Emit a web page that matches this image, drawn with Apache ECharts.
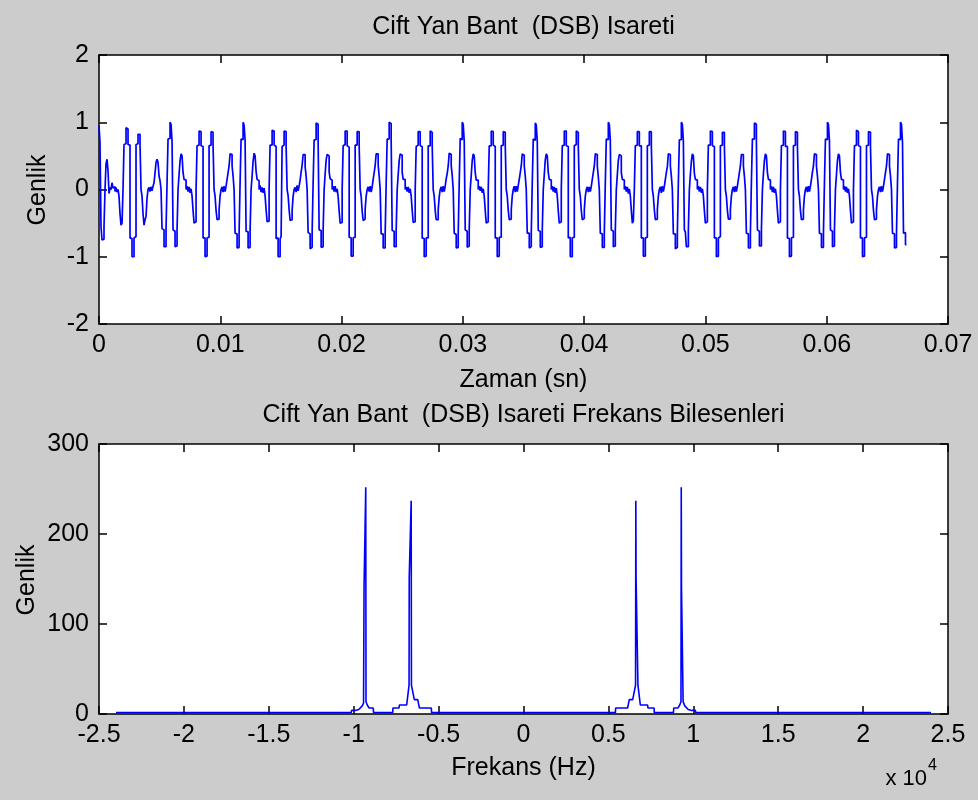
<!DOCTYPE html>
<html><head><meta charset="utf-8">
<script src="https://cdn.jsdelivr.net/npm/echarts@6/dist/echarts.min.js"></script>
<style>html,body{margin:0;padding:0;background:#cccccc}#c{width:978px;height:800px}</style>
</head><body><div id="c"></div>
<script>
// ---- text ----
const timeTitle = 'Cift Yan Bant  (DSB) Isareti';
const freqTitle = 'Cift Yan Bant  (DSB) Isareti Frekans Bilesenleri';
const timeXLabel = 'Zaman (sn)';
const freqXLabel = 'Frekans (Hz)';
const yLabel = 'Genlik';
const timeTickLabels = ['0','0.01','0.02','0.03','0.04','0.05','0.06','0.07'];
const freqTickLabels = ['-2.5','-2','-1.5','-1','-0.5','0','0.5','1','1.5','2','2.5'];

// ---- time signal (one per sample step) ----
const sampleStep = 0.0000825; // seconds between plotted samples
const signal = [
0.95,0.7,-0.55,-0.75,-0.74,-0.55,0,0.38,0.45,0.28,-0.06,0.03,0,0.1,0.02,0.04,-0.03,0.03,-0.04,0,-0.1,-0.36,-0.53,-0.5,0,0.67,0.68,0.92,0.9,0.67,0.66,-0.72,-0.73,-1,-1,-0.72,-0.7,0.67,0.68,0.82,0.82,0.67,0,-0.1,-0.36,-0.53,-0.45,-0.4,-0.13,0,0.03,-0.03,0.04,-0.02,0.05,0.1,0.25,0.4,0.45,0.4,0.2,0.13,0,-0.58,-0.6,-0.85,-0.85,-0.6,0.1,0.75,0.76,
1,0.97,0.72,-0.6,-0.62,-0.85,-0.84,-0.6,0,0.22,0.43,0.53,0.5,0.25,0.15,0.14,0,0.05,-0.03,0.04,-0.05,0.01,-0.1,-0.31,-0.5,-0.48,0,0.65,0.66,0.87,0.86,0.65,0.64,-0.72,-0.72,-1,-0.99,-0.72,-0.71,0.65,0.66,0.86,0.85,0.65,0,-0.1,-0.31,-0.45,-0.44,-0.3,-0.1,0,0.04,-0.04,0.05,-0.03,0.05,0.15,0.25,0.35,0.53,0.52,0.35,0.2,0,-0.65,-0.66,-0.87,-0.86,-0.65,0.1,0.75,0.74,
1,0.96,0.73,-0.62,-0.63,-0.87,-0.86,-0.61,0,0.2,0.42,0.54,0.5,0.27,0.15,0.13,0,0.06,-0.04,0.03,-0.05,0.02,-0.1,-0.3,-0.48,-0.47,0,0.66,0.66,0.88,0.87,0.66,0.64,-0.73,-0.72,-1,-1,-0.73,-0.7,0.64,0.66,0.87,0.86,0.64,0,-0.09,-0.3,-0.46,-0.45,-0.31,-0.1,0,0.03,-0.04,0.06,-0.02,0.05,0.14,0.26,0.36,0.52,0.52,0.34,0.2,0,-0.64,-0.66,-0.88,-0.86,-0.64,0.1,0.74,0.74,
0.99,0.97,0.71,-0.6,-0.61,-0.86,-0.85,-0.6,0,0.23,0.44,0.52,0.5,0.26,0.16,0.14,0,0.05,-0.03,0.05,-0.04,0.01,-0.11,-0.32,-0.5,-0.49,0,0.65,0.67,0.87,0.87,0.65,0.63,-0.71,-0.72,-0.99,-0.99,-0.72,-0.71,0.66,0.66,0.86,0.86,0.65,0,-0.1,-0.32,-0.46,-0.44,-0.29,-0.1,0,0.04,-0.03,0.05,-0.04,0.04,0.15,0.25,0.36,0.53,0.53,0.36,0.2,0,-0.66,-0.66,-0.87,-0.87,-0.66,0.1,0.75,0.75,
1,0.98,0.72,-0.61,-0.62,-0.85,-0.85,-0.6,0,0.22,0.43,0.53,0.51,0.25,0.15,0.15,0,0.04,-0.03,0.04,-0.05,0.01,-0.1,-0.31,-0.49,-0.48,0,0.64,0.66,0.86,0.86,0.65,0.64,-0.72,-0.73,-1,-0.99,-0.72,-0.72,0.65,0.65,0.87,0.85,0.65,0,-0.1,-0.31,-0.45,-0.45,-0.3,-0.11,0,0.04,-0.04,0.05,-0.03,0.05,0.16,0.24,0.35,0.54,0.52,0.35,0.21,0,-0.65,-0.67,-0.87,-0.86,-0.65,0.1,0.76,0.74,
1,0.97,0.72,-0.6,-0.62,-0.86,-0.84,-0.59,0,0.21,0.43,0.53,0.5,0.25,0.14,0.14,0,0.05,-0.02,0.04,-0.05,0.01,-0.1,-0.31,-0.5,-0.48,0,0.65,0.65,0.87,0.86,0.66,0.64,-0.72,-0.72,-1,-0.99,-0.71,-0.71,0.65,0.66,0.86,0.85,0.66,0,-0.1,-0.31,-0.45,-0.44,-0.3,-0.1,0,0.05,-0.04,0.05,-0.03,0.06,0.15,0.25,0.35,0.53,0.51,0.35,0.2,0,-0.65,-0.65,-0.87,-0.85,-0.65,0.1,0.75,0.73,
0.99,0.96,0.72,-0.61,-0.62,-0.86,-0.85,-0.6,0,0.22,0.44,0.53,0.5,0.25,0.15,0.14,0,0.05,-0.03,0.04,-0.05,0.02,-0.1,-0.32,-0.5,-0.48,0,0.65,0.66,0.87,0.87,0.65,0.64,-0.72,-0.71,-1,-1,-0.72,-0.71,0.65,0.67,0.87,0.85,0.65,0,-0.1,-0.31,-0.45,-0.43,-0.3,-0.1,0,0.04,-0.04,0.04,-0.03,0.05,0.15,0.25,0.35,0.53,0.52,0.35,0.19,0,-0.65,-0.66,-0.86,-0.86,-0.65,0.1,0.75,0.74,
1,0.97,0.73,-0.6,-0.62,-0.85,-0.84,-0.6,0,0.22,0.43,0.52,0.5,0.25,0.15,0.14,0,0.05,-0.03,0.04,-0.06,0.01,-0.1,-0.31,-0.5,-0.47,0,0.65,0.66,0.86,0.86,0.65,0.65,-0.72,-0.72,-0.99,-0.99,-0.72,-0.71,0.65,0.66,0.86,0.86,0.65,0,-0.1,-0.3,-0.45,-0.44,-0.3,-0.1,0,0.04,-0.05,0.05,-0.03,0.05,0.15,0.25,0.34,0.53,0.52,0.35,0.2,0,-0.66,-0.66,-0.88,-0.86,-0.65,0.1,0.74,0.74,
1,0.97,0.72,-0.6,-0.63,-0.85,-0.85,-0.6,0,0.22,0.42,0.53,0.5,0.24,0.15,0.14,0,0.05,-0.03,0.04,-0.05,0.01,-0.1,-0.31,-0.5,-0.48,0,0.66,0.66,0.87,0.86,0.65,0.64,-0.72,-0.72,-1,-0.99,-0.72,-0.7,0.65,0.66,0.85,0.85,0.65,0,-0.1,-0.31,-0.44,-0.44,-0.3,-0.1,0,0.04,-0.04,0.05,-0.03,0.05,0.15,0.25,0.35,0.52,0.52,0.35,0.2,0,-0.65,-0.66,-0.87,-0.87,-0.65,0.1,0.75,0.75,
0.99,0.97,0.72,-0.6,-0.62,-0.84,-0.84,-0.6,0,0.23,0.43,0.53,0.5,0.25,0.15,0.14,0,0.05,-0.04,0.04,-0.05,0.01,-0.1,-0.31,-0.5,-0.48,0,0.65,0.66,0.87,0.86,0.64,0.64,-0.72,-0.73,-1,-0.99,-0.72,-0.71,0.65,0.66,0.86,0.85,0.64,0,-0.1,-0.31,-0.45,-0.44,-0.3,-0.1,0,0.04,-0.04,0.05,-0.03,0.05,0.15,0.26,0.35,0.53,0.52,0.35,0.2,0,-0.65,-0.66,-0.86,-0.86,-0.65,0.1,0.75,0.74,
1,0.97,0.72,-0.6,-0.62,-0.85,-0.84,-0.6,0,0.22,0.43,0.53,0.5,0.25,0.15,0.14,0,0.05,-0.03,0.04,-0.05,0.01,-0.1,-0.31,-0.5,-0.48,0,0.65,0.66,0.88,0.86,0.65,0.64,-0.72,-0.72,-1,-0.99,-0.72,-0.71,0.65,0.66,0.86,0.85,0.65,0,-0.1,-0.31,-0.45,-0.44,-0.3,-0.1,0,0.04,-0.04,0.05,-0.03,0.05,0.15,0.25,0.35,0.53,0.52,0.35,0.2,0,-0.65,-0.66,-0.87,-0.86,-0.65,0.1,0.75,0.74,
1,0.97,0.7,-0.65,-0.64,-0.82,-0.82
];

// ---- spectrum ----
const specFreq = [
-24000,-10150,-10120,-9900,-9700,-9500,-9420,-9400,-9390,-9305,-9290,-9275,-9200,-9100,-8850,-8830,
-7700,-7690,-7330,-7310,-6880,-6830,-6740,-6730,-6630,-6615,-6600,-6430,-6230,-6130,-5430,-5410,
5410,5430,6130,6230,6430,6600,6615,6630,6730,6740,6830,6880,7310,7330,7690,7700,
8830,8850,9100,9200,9275,9290,9305,9390,9400,9420,9500,9700,9900,10120,10150,24000];
const specMag = [
1.5,1.5,4,4,5,9,12,13.7,141,141,252,13.7,10,6.7,6.7,1.5,
1.5,6.7,6.7,10,10,18,32,152,152,237,32,16,16,6.7,6.7,1.5,
1.5,6.7,6.7,16,16,32,237,151,151,32,18,10,10,6.7,6.7,1.5,
1.5,6.7,6.7,10,13.7,252,141,141,13.7,12,9,5,4,4,1.5,1.5];

// ---- chart ----
const FONT = '"Liberation Sans", Arial, Helvetica, sans-serif';
const FS = 25;
const timeData = signal.map((v, k) => [k * sampleStep, v]);
const specData = specFreq.map((f, i) => [f, specMag[i]]);

const line = {show: true, onZero: false, lineStyle: {color: '#000', width: 1.5}};
const tick = {show: true, inside: true, length: 8, lineStyle: {color: '#000', width: 1.5}};
const lab = (extra) => Object.assign({color: '#000', fontSize: FS, fontFamily: FONT}, extra);
const boxAxis = (gi, pos, min, max, interval) => ({
  gridIndex: gi, type: 'value', position: pos, min, max, interval,
  axisLine: line, axisTick: tick, axisLabel: {show: false}, splitLine: {show: false}
});

const chart = echarts.init(document.getElementById('c'), null, {renderer: 'canvas', width: 978, height: 800});
chart.setOption({
  backgroundColor: '#cccccc',
  animation: false,
  grid: [
    {left: 99, top: 55, width: 849, height: 269, show: true, backgroundColor: '#ffffff', borderWidth: 0},
    {left: 99, top: 444, width: 849, height: 270, show: true, backgroundColor: '#ffffff', borderWidth: 0}
  ],
  xAxis: [
    {gridIndex: 0, type: 'value', position: 'bottom', min: 0, max: 0.07, interval: 0.01,
     axisLine: line, axisTick: tick, splitLine: {show: false},
     axisLabel: lab({margin: 9, formatter: (v) => timeTickLabels[Math.round(v / 0.01)]})},
    boxAxis(0, 'top', 0, 0.07, 0.01),
    {gridIndex: 1, type: 'value', position: 'bottom', min: -25000, max: 25000, interval: 5000,
     axisLine: line, axisTick: tick, splitLine: {show: false},
     axisLabel: lab({margin: 9, formatter: (v) => freqTickLabels[Math.round((v + 25000) / 5000)]})},
    boxAxis(1, 'top', -25000, 25000, 5000)
  ],
  yAxis: [
    {gridIndex: 0, type: 'value', position: 'left', min: -2, max: 2, interval: 1,
     axisLine: line, axisTick: tick, splitLine: {show: false}, axisLabel: lab({margin: 10})},
    boxAxis(0, 'right', -2, 2, 1),
    {gridIndex: 1, type: 'value', position: 'left', min: 0, max: 300, interval: 100,
     axisLine: line, axisTick: tick, splitLine: {show: false}, axisLabel: lab({margin: 10})},
    boxAxis(1, 'right', 0, 300, 100)
  ],
  series: [
    {type: 'line', xAxisIndex: 0, yAxisIndex: 0, data: timeData, step: 'end',
     showSymbol: false, symbol: 'none', silent: true, clip: true,
     lineStyle: {color: '#0000ff', width: 1.7}},
    {type: 'line', xAxisIndex: 2, yAxisIndex: 2, data: specData,
     showSymbol: false, symbol: 'none', silent: true, clip: true,
     lineStyle: {color: '#0000ff', width: 1.6}}
  ],
  graphic: [
    {type: 'text', x: 523.5, y: 27, silent: true,
     style: {text: timeTitle, fill: '#000', font: FS + 'px ' + FONT, align: 'center', verticalAlign: 'middle'}},
    {type: 'text', x: 523.5, y: 380, silent: true,
     style: {text: timeXLabel, fill: '#000', font: FS + 'px ' + FONT, align: 'center', verticalAlign: 'middle'}},
    {type: 'text', x: 523.5, y: 415, silent: true,
     style: {text: freqTitle, fill: '#000', font: FS + 'px ' + FONT, align: 'center', verticalAlign: 'middle'}},
    {type: 'text', x: 523.5, y: 768, silent: true,
     style: {text: freqXLabel, fill: '#000', font: FS + 'px ' + FONT, align: 'center', verticalAlign: 'middle'}},
    {type: 'text', x: 38, y: 190, rotation: Math.PI / 2, silent: true,
     style: {text: yLabel, fill: '#000', font: FS + 'px ' + FONT, align: 'center', verticalAlign: 'middle'}},
    {type: 'text', x: 27, y: 580, rotation: Math.PI / 2, silent: true,
     style: {text: yLabel, fill: '#000', font: FS + 'px ' + FONT, align: 'center', verticalAlign: 'middle'}},
    {type: 'text', x: 927, y: 779, silent: true,
     style: {text: 'x 10', fill: '#000', font: '22px ' + FONT, align: 'right', verticalAlign: 'middle'}},
    {type: 'text', x: 928, y: 766, silent: true,
     style: {text: '4', fill: '#000', font: '16px ' + FONT, align: 'left', verticalAlign: 'middle'}}
  ]
});
</script>
</body></html>
